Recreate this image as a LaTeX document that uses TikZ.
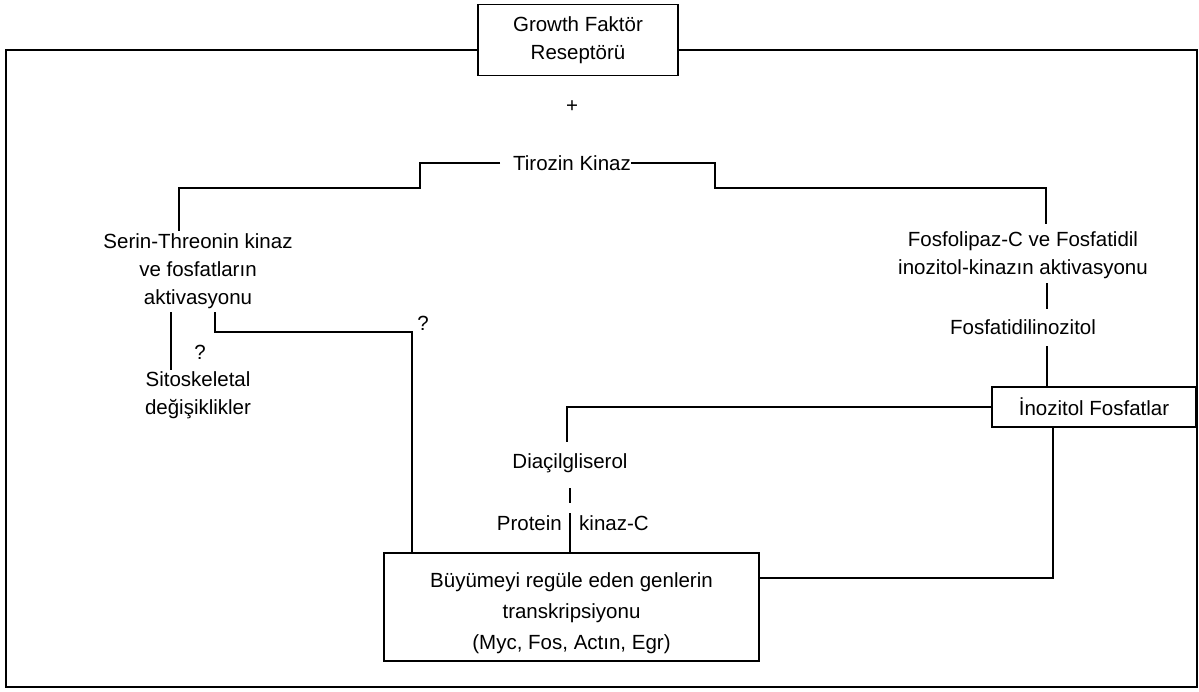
\documentclass[tikz,border=0pt]{standalone}
\usepackage{fontspec}
\setmainfont{Liberation Sans}
\begin{document}
\begin{tikzpicture}[x=1pt,y=-1pt,
  lbl/.style={inner sep=0pt,align=center,font=\fontsize{20.5}{28}\selectfont},
  boxed/.style={draw,line width=1.8pt,fill=white,align=center,font=\fontsize{20.5}{28}\selectfont},
  conn/.style={line width=1.6pt}]
\useasboundingbox (0,0) rectangle (1199,691);
% coordinates for frame corners
\coordinate (ftl) at (6,50);
\coordinate (fbl) at (6,687);
\coordinate (fbr) at (1197,687);
\coordinate (ftr) at (1197,50);
% nodes
\node[boxed,minimum width=200pt,minimum height=71pt] (gf) at (578,40) {Growth Faktör\\Reseptörü};
\node[lbl] (plus) at (572,107) {+};
\node[lbl] (tk) at (572,163) {Tirozin Kinaz};
\node[lbl] (st) at (198,271) {Serin-Threonin kinaz\\ve fosfatların\\aktivasyonu};
\node[lbl] (q1) at (200,352) {?};
\node[lbl] (sit) at (198,395) {Sitoskeletal\\değişiklikler};
\node[lbl] (q2) at (423,323) {?};
\node[lbl] (fos) at (1023,255) {Fosfolipaz-C ve Fosfatidil\\inozitol-kinazın aktivasyonu};
\node[lbl] (fi) at (1023,327) {Fosfatidilinozitol};
\node[boxed,minimum width=204pt,minimum height=40pt,inner sep=0pt] (ino) at (1094,407) {İnozitol Fosfatlar};
\node[lbl] (dag) at (570,463) {Diaçilgliserol};
\node[lbl,anchor=east] (pk1) at (562,523) {Protein};
\node[lbl,anchor=west] (pk2) at (579,523) {kinaz-C};
\node[boxed,font=\fontsize{20.5}{31}\selectfont,minimum width=375pt,minimum height=108pt] (box) at (571.5,607) {\rule{0pt}{27pt}Büyümeyi regüle eden genlerin\\transkripsiyonu\\(Myc, Fos, Actın, Egr)};
% outer frame
\draw[conn] (gf.west |- ftl) -- (ftl) -- (fbl) -- (fbr) -- (ftr) -- (gf.east |- ftr);
% Tirozin kinaz branches
\draw[conn] (500,163) -- (420,163) -- (420,188) -- (179,188) -- (179,231);
\draw[conn] (tk.east) -- (715,163) -- (715,188) -- (1046,188) -- (1046,224);
% left side
\draw[conn] (171,312) -- (171,370);
\draw[conn] (215,312) -- (215,332) -- (412,332) -- (box.north -| 412,0);
% right side
\draw[conn] (1047,283) -- (1047,309);
\draw[conn] (1047,346) -- (ino.north -| 1047,0);
\draw[conn] (ino.west) -- (567,407) -- (567,442);
\draw[conn] (570,488) -- (570,503);
\draw[conn] (570,513) -- (box.north -| 570,0);
\draw[conn] (ino.south -| 1053,0) -- (1053,578) -- (box.east |- 0,578);
\end{tikzpicture}
\end{document}
